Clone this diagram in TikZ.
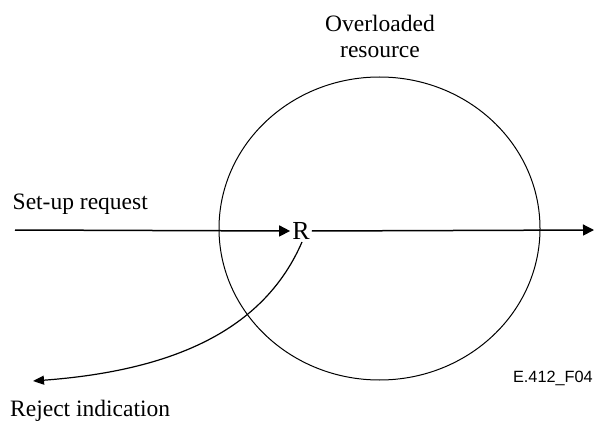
\documentclass[tikz,border=0pt]{standalone}
\usepackage{fontspec}
\setmainfont{Liberation Serif}
\newfontfamily\arialfont{Liberation Sans}
\usetikzlibrary{arrows.meta, shapes.geometric}
\tikzset{
	lbl/.style={inner sep=0pt, font=\fontsize{23.5}{26}\selectfont},
	flow/.style={-{Triangle[length=11pt,width=11pt]}, line width=1.5pt},
	rej/.style={-{Triangle[length=11pt,width=9pt]}, line width=1.2pt}
}
\begin{document}
\begin{tikzpicture}[x=1pt, y=-1pt]
	\useasboundingbox (0,0) rectangle (594,422);
	\node[ellipse, draw, line width=1pt, minimum width=321pt, minimum height=303pt, inner sep=0pt] (res) at (379.5,228.5) {};
	\node[lbl, anchor=base] (reslbl1) at (380,32) {Overloaded};
	\node[lbl, anchor=base] (reslbl2) at (380,58) {resource};
	\node[lbl, font=\fontsize{26}{28}\selectfont, inner sep=2pt] (r) at (301,231) {R};
	\coordinate (in) at (15,230);
	\coordinate (out) at (594,230);
	\coordinate (back) at (33,381);
	\node[lbl, anchor=base west] (setup) at (12.5,210) {Set-up request};
	\node[lbl, anchor=base west] (rejlbl) at (10,416) {Reject indication};
	\node[inner sep=0pt, anchor=base east, font=\arialfont\fontsize{16.3}{18}\selectfont] (fig) at (593,382) {E.412\_F04};
	\draw[flow] (in) -- (r.west);
	\draw[flow] (r.east) -- (out);
	\draw[rej] (302,242) .. controls (266,325) and (182,370) .. (back);
\end{tikzpicture}
\end{document}
